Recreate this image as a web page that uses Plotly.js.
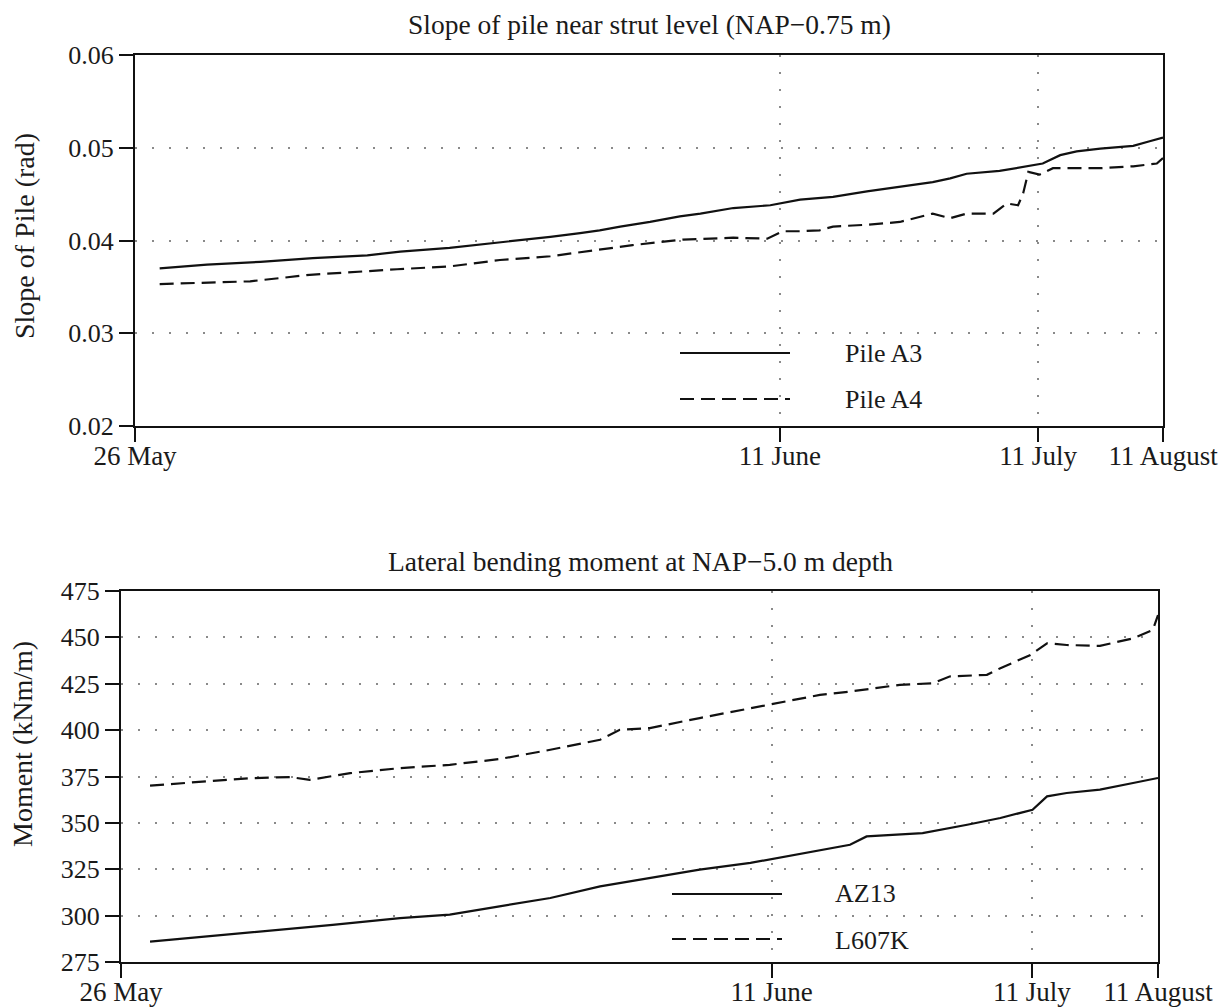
<!DOCTYPE html>
<html>
<head>
<meta charset="utf-8">
<script src="https://cdn.plot.ly/plotly-3.0.1.min.js"></script>
<style>html,body{margin:0;padding:0;background:#fff;}#chart{width:1223px;height:1007px;}</style>
</head>
<body>
<div id="chart"></div>
<script>
// ---- Data (x = position along the time axis, 0 = 26 May, 100 = 11 August) ----
const tickPositions = [0, 62.74, 87.84, 100];
const tickLabels = ["26 May", "11 June", "11 July", "11 August"];

const pileA3_t = [2.4, 7.0, 12.2, 17.3, 22.6, 25.8, 30.6, 36.5, 40.4, 43.3, 45.2, 47.2, 50.1, 53.0, 55.0, 58.2, 61.8, 64.7, 66.6, 67.9, 71.2, 74.4, 77.6, 79.3, 80.9, 84.1, 87.4, 88.3, 90.0, 91.6, 93.9, 97.1, 98.7, 100];
const pileA3_v = [0.0370, 0.0374, 0.0377, 0.0381, 0.0384, 0.0388, 0.0392, 0.0399, 0.0404, 0.0408, 0.0411, 0.0415, 0.0420, 0.0426, 0.0429, 0.0435, 0.0438, 0.0444, 0.0446, 0.0447, 0.0453, 0.0458, 0.0463, 0.0467, 0.0472, 0.0475, 0.0481, 0.0483, 0.0492, 0.0496, 0.0499, 0.0502, 0.0507, 0.0511];

const pileA4_t = [2.4, 11.2, 17.0, 20.9, 25.5, 30.6, 35.5, 40.4, 45.2, 48.4, 53.3, 58.2, 61.5, 63.0, 64.7, 66.6, 67.9, 71.2, 74.4, 77.6, 79.3, 80.9, 83.5, 84.8, 85.9, 86.4, 86.9, 88.0, 89.3, 90.7, 93.9, 97.1, 99.4, 100];
const pileA4_v = [0.0353, 0.0356, 0.0363, 0.0366, 0.0369, 0.0372, 0.0379, 0.0383, 0.0390, 0.0395, 0.0401, 0.0403, 0.0402, 0.0410, 0.0410, 0.0411, 0.0415, 0.0417, 0.0420, 0.0429, 0.0424, 0.0429, 0.0429, 0.0440, 0.0438, 0.0451, 0.0474, 0.0471, 0.0478, 0.0478, 0.0478, 0.0480, 0.0483, 0.0489];

const az13_t = [2.8, 7.6, 14.1, 20.4, 26.9, 31.7, 36.5, 41.4, 46.2, 51.0, 55.8, 60.7, 65.5, 67.4, 70.3, 71.9, 77.3, 81.6, 84.8, 87.9, 89.3, 91.2, 94.4, 97.6, 100];
const az13_v = [286, 288.5, 291.5, 295, 298.7, 300.5, 305, 309.5, 315.8, 320.3, 324.8, 328.4, 333.5, 335.5, 338.2, 342.7, 344.5, 349, 352.6, 357.1, 364.3, 366.1, 367.9, 371.5, 374.2];

const l607k_t = [2.8, 7.6, 12.4, 16.3, 18.2, 22.1, 26.9, 31.7, 36.5, 41.4, 46.2, 48.1, 51.0, 55.8, 60.7, 65.5, 67.4, 70.3, 75.1, 78.3, 79.9, 83.5, 84.8, 87.7, 89.3, 91.2, 94.4, 97.6, 99.5, 100];
const l607k_v = [370.1, 372.3, 374.1, 374.7, 373.2, 376.8, 379.5, 381.3, 384.4, 389.4, 394.8, 400.2, 401.1, 406.5, 411.8, 417.2, 419, 420.8, 424.4, 425.3, 428.9, 429.8, 433.4, 440.5, 446.8, 445.9, 445.4, 449.5, 454, 462];

const topTitle = "Slope of pile near strut level (NAP\u22120.75 m)";
const bottomTitle = "Lateral bending moment at NAP\u22125.0 m depth";
const topYTitle = "Slope of Pile (rad)";
const bottomYTitle = "Moment (kNm/m)";
const legendTop = ["Pile A3", "Pile A4"];
const legendBottom = ["AZ13", "L607K"];

// ---- Layout helpers ----
const W = 1223, H = 1007;
const px = x => x / W;
const py = y => 1 - y / H;
const FONT = "Liberation Serif, Times New Roman, serif";
const TXT = "#1a1a1a";
const gridDash = "2px,15px";
const dashed = "14px,7px";

const traces = [
  {x: pileA3_t, y: pileA3_v, xaxis: "x", yaxis: "y", mode: "lines", line: {color: "#111", width: 2.2}},
  {x: pileA4_t, y: pileA4_v, xaxis: "x", yaxis: "y", mode: "lines", line: {color: "#111", width: 2.2, dash: dashed}},
  {x: az13_t, y: az13_v, xaxis: "x2", yaxis: "y2", mode: "lines", line: {color: "#111", width: 2.2}},
  {x: l607k_t, y: l607k_v, xaxis: "x2", yaxis: "y2", mode: "lines", line: {color: "#111", width: 2.2, dash: dashed}}
];

function xAxis(domain, anchor) {
  return {
    domain: domain, anchor: anchor, range: [0, 100],
    tickmode: "array", tickvals: tickPositions, ticktext: tickLabels,
    ticks: "outside", ticklen: 14, tickwidth: 2, tickcolor: "#111",
    ticklabelstandoff: -9,
    showline: true, linecolor: "#111", linewidth: 2, mirror: true,
    showgrid: true, gridcolor: "#8a8a8a", gridwidth: 2, griddash: gridDash,
    zeroline: false, tickfont: {family: FONT, size: 27, color: TXT}
  };
}
function yAxis(domain, anchor, range, dtick) {
  return {
    domain: domain, anchor: anchor, range: range, dtick: dtick, tick0: range[0],
    ticks: "outside", ticklen: 14, tickwidth: 2, tickcolor: "#111",
    showline: true, linecolor: "#111", linewidth: 2, mirror: true,
    showgrid: true, gridcolor: "#8a8a8a", gridwidth: 2, griddash: gridDash,
    zeroline: false, tickfont: {family: FONT, size: 26, color: TXT}
  };
}

const layout = {
  width: W, height: H, margin: {l: 0, r: 0, t: 0, b: 0},
  paper_bgcolor: "#fff", plot_bgcolor: "#fff", showlegend: false,
  xaxis: xAxis([px(135), px(1163)], "y"),
  yaxis: Object.assign(yAxis([py(426), py(55)], "x", [0.02, 0.06], 0.01), {tickformat: ".2f"}),
  xaxis2: xAxis([px(121), px(1158)], "y2"),
  yaxis2: yAxis([py(962), py(591)], "x2", [275, 475], 25),
  shapes: [
    {type: "line", xref: "paper", yref: "paper", x0: px(680), x1: px(790), y0: py(353), y1: py(353), line: {color: "#111", width: 2.2}},
    {type: "line", xref: "paper", yref: "paper", x0: px(680), x1: px(790), y0: py(399), y1: py(399), line: {color: "#111", width: 2.2, dash: dashed}},
    {type: "line", xref: "paper", yref: "paper", x0: px(672), x1: px(782), y0: py(894), y1: py(894), line: {color: "#111", width: 2.2}},
    {type: "line", xref: "paper", yref: "paper", x0: px(672), x1: px(782), y0: py(939), y1: py(939), line: {color: "#111", width: 2.2, dash: dashed}}
  ],
  annotations: [
    {text: topTitle, xref: "paper", yref: "paper", x: px(649), y: py(25), showarrow: false, xanchor: "center", yanchor: "middle", font: {family: FONT, size: 27.5, color: TXT}},
    {text: bottomTitle, xref: "paper", yref: "paper", x: px(640), y: py(561), showarrow: false, xanchor: "center", yanchor: "middle", font: {family: FONT, size: 27.5, color: TXT}},
    {text: topYTitle, xref: "paper", yref: "paper", x: px(24), y: py(236), showarrow: false, textangle: -90, xanchor: "center", yanchor: "middle", font: {family: FONT, size: 28, color: TXT}},
    {text: bottomYTitle, xref: "paper", yref: "paper", x: px(22), y: py(744), showarrow: false, textangle: -90, xanchor: "center", yanchor: "middle", font: {family: FONT, size: 28, color: TXT}},
    {text: legendTop[0], xref: "paper", yref: "paper", x: px(843), y: py(353), showarrow: false, xanchor: "left", yanchor: "middle", font: {family: FONT, size: 26, color: TXT}},
    {text: legendTop[1], xref: "paper", yref: "paper", x: px(843), y: py(399), showarrow: false, xanchor: "left", yanchor: "middle", font: {family: FONT, size: 26, color: TXT}},
    {text: legendBottom[0], xref: "paper", yref: "paper", x: px(833), y: py(893), showarrow: false, xanchor: "left", yanchor: "middle", font: {family: FONT, size: 26, color: TXT}},
    {text: legendBottom[1], xref: "paper", yref: "paper", x: px(833), y: py(940), showarrow: false, xanchor: "left", yanchor: "middle", font: {family: FONT, size: 26, color: TXT}}
  ]
};

Plotly.newPlot("chart", traces, layout, {staticPlot: true, displayModeBar: false});
</script>
</body>
</html>
